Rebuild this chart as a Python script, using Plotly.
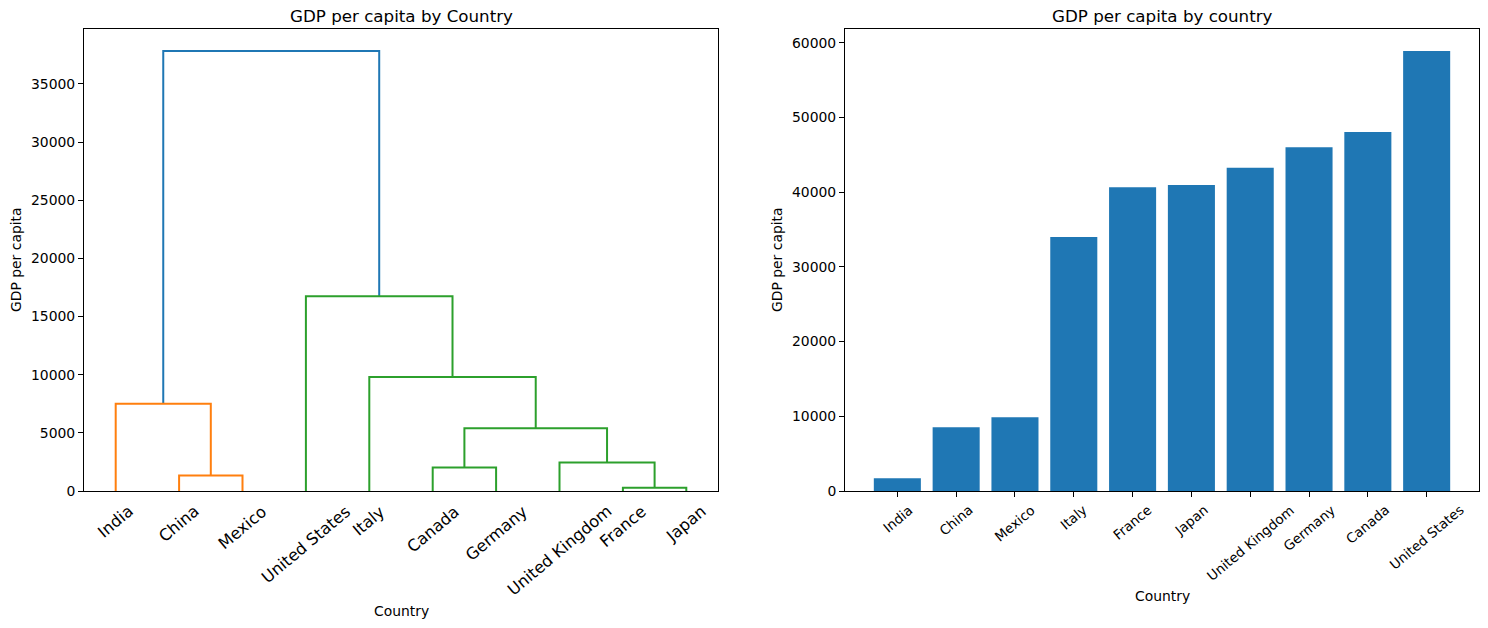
import numpy as np
import plotly.graph_objects as go

# data (original order of the table)
countries = ["United States", "Canada", "Germany", "United Kingdom", "France",
             "Italy", "Japan", "China", "India", "Mexico"]
gdp_per_capita = [58880, 48030, 46000, 43250, 40650, 33980, 40940, 8530, 1700, 9870]

dendro_title = "GDP per capita by Country"
bar_title = "GDP per capita by country"
x_label = "Country"
y_label = "GDP per capita"

W, H = 1488, 628
FONT = "DejaVu Sans"
C0, C1, C2 = "#1f77b4", "#ff7f0e", "#2ca02c"


def average_linkage(vals):
    vals = np.asarray(vals, dtype=float)
    n = len(vals)
    clusters = {i: [i] for i in range(n)}
    rows = []
    nid = n
    while len(clusters) > 1:
        ids = sorted(clusters)
        best = None
        for i in range(len(ids)):
            for j in range(i + 1, len(ids)):
                a, b = ids[i], ids[j]
                d = np.abs(vals[clusters[a]][:, None] - vals[clusters[b]][None, :]).mean()
                if best is None or d < best[0]:
                    best = (d, a, b)
        d, a, b = best
        rows.append((a, b, d))
        clusters[nid] = clusters.pop(a) + clusters.pop(b)
        nid += 1
    return rows


rows = average_linkage(gdp_per_capita)
n = len(countries)
children = {n + k: (a, b) for k, (a, b, _) in enumerate(rows)}
height = {n + k: d for k, (_, _, d) in enumerate(rows)}
root = n + len(rows) - 1

# leaf order and x positions like scipy (5, 15, 25, ...)
leaf_order = []


def walk(node):
    if node < n:
        leaf_order.append(node)
    else:
        walk(children[node][0])
        walk(children[node][1])


walk(root)
xpos = {leaf: 5 + 10 * i for i, leaf in enumerate(leaf_order)}


def node_x(node):
    if node < n:
        return xpos[node]
    a, b = children[node]
    return (node_x(a) + node_x(b)) / 2


def node_h(node):
    return 0 if node < n else height[node]


threshold = 0.7 * height[root]
palette = [C1, C2, "#d62728", "#9467bd"]
links = []
color_idx = [0]


def colour(node, col):
    a, b = children[node]
    c = C0 if height[node] >= threshold else col
    links.append((node, c))
    for ch in (a, b):
        if ch >= n:
            if height[node] >= threshold and height[ch] < threshold:
                colour(ch, palette[color_idx[0]])
                color_idx[0] += 1
            else:
                colour(ch, c)


colour(root, C0)

fig = go.Figure()
for node, c in links:
    a, b = children[node]
    fig.add_trace(go.Scatter(
        x=[node_x(a), node_x(a), node_x(b), node_x(b)],
        y=[node_h(a), height[node], height[node], node_h(b)],
        mode="lines", line=dict(color=c, width=2), showlegend=False,
        hoverinfo="skip", xaxis="x", yaxis="y"))

# bar chart sorted ascending
order = np.argsort(gdp_per_capita)
bar_countries = [countries[i] for i in order]
bar_values = [gdp_per_capita[i] for i in order]
fig.add_trace(go.Bar(x=list(range(n)), y=bar_values, marker_color=C0,
                     marker_line_width=0, width=0.8, showlegend=False,
                     xaxis="x2", yaxis="y2"))

x1 = [84 / W, 718 / W]
x2 = [845 / W, 1479 / W]
ydom = [(H - 491) / H, (H - 29) / H]

axis_common = dict(showline=True, mirror=True, linecolor="black", linewidth=1,
                   showgrid=False, zeroline=False, automargin=False,
                   tickformat="d",
                   tickfont=dict(family=FONT, size=13.9, color="black"))

fig.update_layout(
    width=W, height=H, margin=dict(l=0, r=0, t=0, b=0, pad=0),
    plot_bgcolor="white", paper_bgcolor="white",
    font=dict(family=FONT, color="black"),
    xaxis=dict(domain=x1, range=[0, 10 * n], tickvals=[xpos[l] for l in leaf_order],
               ticktext=["" for _ in leaf_order], ticks="", anchor="y", **axis_common),
    yaxis=dict(domain=ydom, range=[0, height[root] * 1.05], tickvals=list(range(0, 40000, 5000)),
               ticks="outside", ticklen=5, tickcolor="black", anchor="x", **axis_common),
    xaxis2=dict(domain=x2, range=[-0.89, n - 1 + 0.89], tickvals=list(range(n)),
                ticktext=["" for _ in range(n)], ticks="outside", ticklen=5,
                tickcolor="black", anchor="y2", **axis_common),
    yaxis2=dict(domain=ydom, range=[0, max(bar_values) * 1.05],
                tickvals=list(range(0, 70000, 10000)), ticks="outside", ticklen=5,
                tickcolor="black", anchor="x2", **axis_common),
)

ann = []
# leaf labels for dendrogram
for l in leaf_order:
    ann.append(dict(x=xpos[l], xref="x", y=ydom[0], yref="paper", text=countries[l],
                    showarrow=False, textangle=-40, xanchor="center", yanchor="top",
                    yshift=-8, font=dict(size=16.2)))
# tick labels for bar chart
for i, c in enumerate(bar_countries):
    ann.append(dict(x=i, xref="x2", y=ydom[0], yref="paper", text=c,
                    showarrow=False, textangle=-40, xanchor="center", yanchor="top",
                    yshift=-8, font=dict(size=13.5)))
# titles
for dom, t in ((x1, dendro_title), (x2, bar_title)):
    ann.append(dict(x=sum(dom) / 2, xref="paper", y=ydom[1], yref="paper", text=t,
                    showarrow=False, xanchor="center", yanchor="bottom", yshift=1,
                    font=dict(size=16.7)))
# axis titles
ann.append(dict(x=401 / W, xref="paper", y=1 - 611 / H, yref="paper", text=x_label,
                showarrow=False, xanchor="center", yanchor="middle", font=dict(size=13.9)))
ann.append(dict(x=1162 / W, xref="paper", y=1 - 596 / H, yref="paper", text=x_label,
                showarrow=False, xanchor="center", yanchor="middle", font=dict(size=13.9)))
ann.append(dict(x=16 / W, xref="paper", y=1 - 260 / H, yref="paper", text=y_label,
                showarrow=False, textangle=-90, xanchor="center", yanchor="middle",
                font=dict(size=13.9)))
ann.append(dict(x=777 / W, xref="paper", y=1 - 260 / H, yref="paper", text=y_label,
                showarrow=False, textangle=-90, xanchor="center", yanchor="middle",
                font=dict(size=13.9)))
fig.update_layout(annotations=ann)

# page body has an 8px default margin; drop it so the figure fills the window
fig.write_html("out.html", config={"displayModeBar": False},
               post_script="document.body.style.margin='0';")
